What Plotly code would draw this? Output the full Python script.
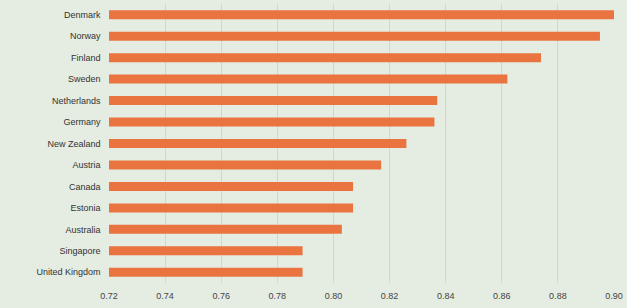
import plotly.graph_objects as go

countries = ["Denmark", "Norway", "Finland", "Sweden", "Netherlands", "Germany",
             "New Zealand", "Austria", "Canada", "Estonia", "Australia",
             "Singapore", "United Kingdom"]
values = [0.900, 0.895, 0.874, 0.862, 0.837, 0.836, 0.826, 0.817, 0.807,
          0.807, 0.803, 0.789, 0.789]
tick_vals = [0.72, 0.74, 0.76, 0.78, 0.80, 0.82, 0.84, 0.86, 0.88, 0.90]
tick_text = ["0.72", "0.74", "0.76", "0.78", "0.80", "0.82", "0.84", "0.86", "0.88", "0.90"]

fig = go.Figure(go.Bar(
    x=values, y=countries, orientation="h",
    marker=dict(color="#ea7440", line=dict(width=0)),
    hoverinfo="skip",
))

fig.update_layout(
    width=627, height=308,
    margin=dict(l=109, r=13, t=4, b=25),
    paper_bgcolor="#e5ece2",
    plot_bgcolor="rgba(0,0,0,0)",
    bargap=0.58,
    showlegend=False,
    hovermode=False,
    font=dict(family="Liberation Sans, Arial, sans-serif", size=9, color="#333333"),
)
fig.update_xaxes(range=[0.72, 0.90], tickvals=tick_vals, ticktext=tick_text,
                 showgrid=True, gridcolor="rgba(140,140,140,0.22)", gridwidth=1,
                 zeroline=False, showline=False, ticks="", ticklabelstandoff=6,
                 tickfont=dict(size=9, color="#444444"))
fig.update_yaxes(categoryorder="array", categoryarray=countries,
                 autorange="reversed", showgrid=False, ticks="",
                 ticksuffix="   ", tickfont=dict(size=9, color="#333333"))

fig.write_html("out.html", config={"displayModeBar": False, "staticPlot": True},
               post_script="document.body.style.margin='0';")
